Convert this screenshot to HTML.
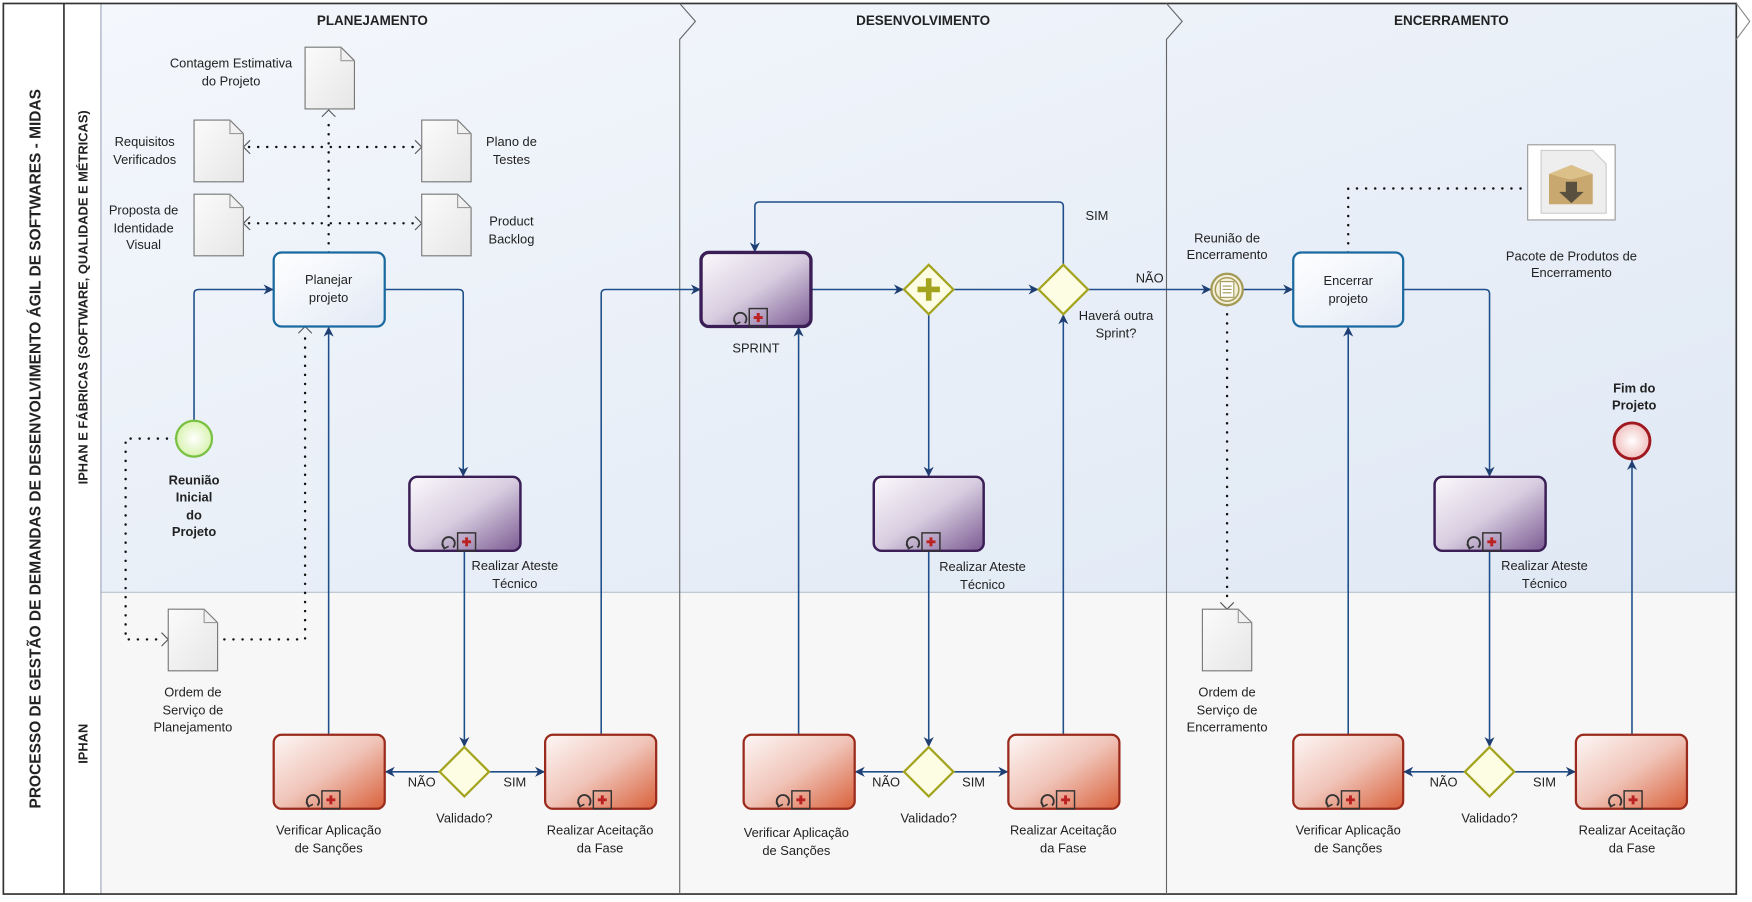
<!DOCTYPE html>
<html><head><meta charset="utf-8">
<style>
html,body{margin:0;padding:0;background:#fff;}
svg{display:block;}
text{font-family:"Liberation Sans",sans-serif;font-size:11.5px;fill:#222;}
.b{font-weight:bold;}
</style></head><body>
<svg width="1752" height="902" viewBox="0 0 1562 804" xmlns="http://www.w3.org/2000/svg">
<defs>
<linearGradient id="lane" x1="0" y1="0" x2="1" y2="1">
<stop offset="0" stop-color="#f4f7fc"/><stop offset="1" stop-color="#dfe8f4"/></linearGradient>
<linearGradient id="pur" x1="0" y1="0" x2="1" y2="1">
<stop offset="0" stop-color="#fbf9fc"/><stop offset="0.5" stop-color="#d8cde0"/><stop offset="1" stop-color="#7a5a92"/></linearGradient>
<linearGradient id="red" x1="0" y1="0" x2="1" y2="1">
<stop offset="0" stop-color="#fdf7f6"/><stop offset="0.5" stop-color="#f0c4b8"/><stop offset="1" stop-color="#d9603a"/></linearGradient>
<linearGradient id="blu" x1="0" y1="0" x2="1" y2="1">
<stop offset="0" stop-color="#ffffff"/><stop offset="1" stop-color="#e2e9f5"/></linearGradient>
<linearGradient id="doc" x1="0" y1="0" x2="1" y2="1">
<stop offset="0" stop-color="#fbfbfb"/><stop offset="1" stop-color="#e6e6e6"/></linearGradient>
<radialGradient id="grn"><stop offset="0" stop-color="#ffffff"/><stop offset="1" stop-color="#d9f3b0"/></radialGradient>
<radialGradient id="rdc"><stop offset="0" stop-color="#fff"/><stop offset="1" stop-color="#f2c0c0"/></radialGradient>
<marker id="ar" viewBox="0 0 10 10" refX="10" refY="5" markerWidth="9" markerHeight="9" orient="auto" markerUnits="userSpaceOnUse"><path d="M0,0 L10,5 L0,10 L3,5 z" fill="#1f3f73"/></marker>
<g id="ic"><path d="M-15,3 A5.5,5.5 0 1 1 -7,3" fill="none" stroke="#333" stroke-width="1.6"/><path d="M-17,0 L-15,4 L-11,2" fill="none" stroke="#333" stroke-width="1.4"/><rect x="-3" y="-10" width="16" height="16" fill="none" stroke="#333" stroke-width="1.3"/><path d="M5,-6 v8 M1,-2 h8" stroke="#b22" stroke-width="2.6"/></g>
<g id="docs"><path d="M0,0 h32 l12,12 v43 h-44 z" fill="url(#doc)" stroke="#777" stroke-width="1"/><path d="M32,0 v12 h12" fill="none" stroke="#999" stroke-width="1"/></g>
</defs>

<rect x="90" y="3" width="1458" height="525" fill="url(#lane)"/>
<rect x="90" y="528" width="1458" height="269" fill="#f7f7f7"/>
<line x1="90" y1="528" x2="1548" y2="528" stroke="#b8c2cf" stroke-width="1"/>
<line x1="90" y1="3" x2="90" y2="797" stroke="#9aa6b8" stroke-width="1"/>
<rect x="3" y="3" width="1545" height="794" fill="none" stroke="#333" stroke-width="1.5"/>
<line x1="57" y1="3" x2="57" y2="797" stroke="#333" stroke-width="1.5"/>
<path d="M606,3 L620,19 L606,35 V797" fill="none" stroke="#666" stroke-width="1"/>
<path d="M1040,3 L1054,19 L1040,35 V797" fill="none" stroke="#666" stroke-width="1"/>
<path d="M1548,3 L1560,19 L1548,35" fill="none" stroke="#888" stroke-width="1"/>
<text x="332" y="22" text-anchor="middle" class="b" style="font-size:12px">PLANEJAMENTO</text>
<text x="823" y="22" text-anchor="middle" class="b" style="font-size:12px">DESENVOLVIMENTO</text>
<text x="1294" y="22" text-anchor="middle" class="b" style="font-size:12px">ENCERRAMENTO</text>
<text transform="translate(36,400) rotate(-90)" text-anchor="middle" class="b" style="font-size:13.8px">PROCESSO DE GESTÃO DE DEMANDAS DE DESENVOLVIMENTO ÁGIL DE SOFTWARES - MIDAS</text>
<text transform="translate(78,265) rotate(-90)" text-anchor="middle" class="b" style="font-size:11.5px">IPHAN E FÁBRICAS (SOFTWARE, QUALIDADE E MÉTRICAS)</text>
<text transform="translate(78,663) rotate(-90)" text-anchor="middle" class="b" style="font-size:11.5px">IPHAN</text>

<g fill="none" stroke="#111" stroke-width="2.2" stroke-dasharray="0.1 8" stroke-linecap="round">
<path d="M293,225 V104"/>
<path d="M222,131 H370"/>
<path d="M222,199 H370"/>
<path d="M157,391 H112 V570 H144"/>
<path d="M200,570 H272 V297"/>
<path d="M1094,272 V538"/>
<path d="M1202,225 V168 H1358"/>
</g>
<g fill="none" stroke="#555" stroke-width="1">
<path d="M287,104 L293,98 L299,104"/>
<path d="M223,125 L217,131 L223,137"/><path d="M370,125 L376,131 L370,137"/>
<path d="M223,193 L217,199 L223,205"/><path d="M370,193 L376,199 L370,205"/>
<path d="M144,564 L150,570 L144,576"/>
<path d="M266,297 L272,291 L278,297"/>
<path d="M1088,537 L1094,543 L1100,537"/>
</g>

<use href="#docs" x="272" y="42"/>
<use href="#docs" x="173" y="107"/>
<use href="#docs" x="376" y="107"/>
<use href="#docs" x="173" y="173"/>
<use href="#docs" x="376" y="173"/>
<use href="#docs" x="150" y="543"/>
<use href="#docs" x="1072" y="543"/>
<text x="206" y="60" text-anchor="middle">Contagem Estimativa</text><text x="206" y="76" text-anchor="middle">do Projeto</text>
<text x="129" y="130" text-anchor="middle">Requisitos</text><text x="129" y="146" text-anchor="middle">Verificados</text>
<text x="456" y="130" text-anchor="middle">Plano de</text><text x="456" y="146" text-anchor="middle">Testes</text>
<text x="128" y="191" text-anchor="middle">Proposta de</text><text x="128" y="207" text-anchor="middle">Identidade</text><text x="128" y="222" text-anchor="middle">Visual</text>
<text x="456" y="201" text-anchor="middle">Product</text><text x="456" y="217" text-anchor="middle">Backlog</text>
<text x="172" y="621" text-anchor="middle">Ordem de</text><text x="172" y="637" text-anchor="middle">Serviço de</text><text x="172" y="652" text-anchor="middle">Planejamento</text>
<text x="1094" y="621" text-anchor="middle">Ordem de</text><text x="1094" y="637" text-anchor="middle">Serviço de</text><text x="1094" y="652" text-anchor="middle">Encerramento</text>

<rect x="1362" y="129" width="78" height="67" fill="#fff" stroke="#999"/>
<path d="M1374,134 h46 l12,12 v44 h-58 z" fill="#eee" stroke="#ccc"/>
<path d="M1381,155 l20,-8 l19,8 v27 h-39 z" fill="#c8a86e"/>
<path d="M1381,155 l20,-8 l19,8 l-20,5 z" fill="#dcc08a"/>
<path d="M1396,162 h10 v9 h6 l-11,10 l-11,-10 h6 z" fill="#5a5040"/>
<text x="1401" y="232" text-anchor="middle">Pacote de Produtos de</text><text x="1401" y="247" text-anchor="middle">Encerramento</text>

<g fill="none" stroke="#1f4f8a" stroke-width="1.4" marker-end="url(#ar)">
<path d="M173,375 V262 q0,-4 4,-4 H244"/>
<path d="M343,258 H409 q4,0 4,4 V425"/>
<path d="M414,491 V666"/>
<path d="M392,688 H343"/>
<path d="M436,688 H486"/>
<path d="M293,655 V291"/>
<path d="M536,655 V262 q0,-4 4,-4 H625"/>
<path d="M723,258 H806"/>
<path d="M850,258 H926"/>
<path d="M828,280 V425"/>
<path d="M828,491 V666"/>
<path d="M806,688 H762"/>
<path d="M850,688 H899"/>
<path d="M712,655 V291"/>
<path d="M948,655 V280"/>
<path d="M948,236 V184 q0,-4 -4,-4 H677 q-4,0 -4,4 V225"/>
<path d="M970,258 H1080"/>
<path d="M1108,258 H1153"/>
<path d="M1251,258 H1324 q4,0 4,4 V425"/>
<path d="M1328,491 V666"/>
<path d="M1306,688 H1251"/>
<path d="M1350,688 H1405"/>
<path d="M1202,655 V291"/>
<path d="M1455,655 V410"/>
</g>

<circle cx="173" cy="391" r="16" fill="url(#grn)" stroke="#7ac143" stroke-width="2"/>
<text x="173" y="432" text-anchor="middle" class="b">Reunião</text><text x="173" y="447" text-anchor="middle" class="b">Inicial</text><text x="173" y="463" text-anchor="middle" class="b">do</text><text x="173" y="478" text-anchor="middle" class="b">Projeto</text>
<circle cx="1455" cy="393" r="16" fill="url(#rdc)" stroke="#a01820" stroke-width="2.6"/>
<text x="1457" y="350" text-anchor="middle" class="b">Fim do</text><text x="1457" y="365" text-anchor="middle" class="b">Projeto</text>
<circle cx="1094" cy="258" r="14" fill="#f3efd8" stroke="#a39a55" stroke-width="2"/>
<circle cx="1094" cy="258" r="10.5" fill="none" stroke="#a39a55" stroke-width="1.3"/>
<rect x="1088" y="251" width="12" height="14" fill="#fff" stroke="#a39a55"/>
<path d="M1090,255 h8 M1090,258 h8 M1090,261 h8" stroke="#a39a55"/>
<text x="1094" y="216" text-anchor="middle">Reunião de</text><text x="1094" y="231" text-anchor="middle">Encerramento</text>

<g stroke="#a3a31d" stroke-width="2" fill="#fdfde3">
<path d="M414,666 L436,688 L414,710 L392,688 z"/>
<path d="M828,666 L850,688 L828,710 L806,688 z"/>
<path d="M1328,666 L1350,688 L1328,710 L1306,688 z"/>
<path d="M828,236 L850,258 L828,280 L806,258 z"/>
<path d="M948,236 L970,258 L948,280 L926,258 z"/>
</g>
<path d="M828,248 v20 M818,258 h20" stroke="#a3a31d" stroke-width="5"/>
<text x="414" y="733" text-anchor="middle">Validado?</text>
<text x="828" y="733" text-anchor="middle">Validado?</text>
<text x="1328" y="733" text-anchor="middle">Validado?</text>
<text x="376" y="701" text-anchor="middle">NÃO</text><text x="459" y="701" text-anchor="middle">SIM</text>
<text x="790" y="701" text-anchor="middle">NÃO</text><text x="868" y="701" text-anchor="middle">SIM</text>
<text x="1287" y="701" text-anchor="middle">NÃO</text><text x="1377" y="701" text-anchor="middle">SIM</text>
<text x="978" y="196" text-anchor="middle">SIM</text>
<text x="1025" y="252" text-anchor="middle">NÃO</text>
<text x="995" y="285" text-anchor="middle">Haverá outra</text><text x="995" y="301" text-anchor="middle">Sprint?</text>

<g fill="url(#blu)" stroke="#1a6aa0" stroke-width="2">
<rect x="244" y="225" width="99" height="66" rx="7"/>
<rect x="1153" y="225" width="98" height="66" rx="7"/>
</g>
<text x="293" y="253" text-anchor="middle">Planejar</text><text x="293" y="269" text-anchor="middle">projeto</text>
<text x="1202" y="254" text-anchor="middle">Encerrar</text><text x="1202" y="270" text-anchor="middle">projeto</text>

<g fill="url(#pur)" stroke="#3a1e55" stroke-width="2.2">
<rect x="625" y="225" width="98" height="66" rx="7" stroke-width="3"/>
<rect x="365" y="425" width="99" height="66" rx="7"/>
<rect x="779" y="425" width="98" height="66" rx="7"/>
<rect x="1279" y="425" width="99" height="66" rx="7"/>
</g>
<g fill="url(#red)" stroke="#9a2a1c" stroke-width="2">
<rect x="244" y="655" width="99" height="66" rx="7"/>
<rect x="486" y="655" width="99" height="66" rx="7"/>
<rect x="663" y="655" width="99" height="66" rx="7"/>
<rect x="899" y="655" width="99" height="66" rx="7"/>
<rect x="1153" y="655" width="98" height="66" rx="7"/>
<rect x="1405" y="655" width="99" height="66" rx="7"/>
</g>
<use href="#ic" x="671" y="285"/>
<use href="#ic" x="411" y="485"/>
<use href="#ic" x="825" y="485"/>
<use href="#ic" x="1325" y="485"/>
<use href="#ic" x="290" y="715"/>
<use href="#ic" x="532" y="715"/>
<use href="#ic" x="709" y="715"/>
<use href="#ic" x="945" y="715"/>
<use href="#ic" x="1199" y="715"/>
<use href="#ic" x="1451" y="715"/>

<text x="674" y="314" text-anchor="middle">SPRINT</text>
<text x="459" y="508" text-anchor="middle">Realizar Ateste</text><text x="459" y="524" text-anchor="middle">Técnico</text>
<text x="876" y="509" text-anchor="middle">Realizar Ateste</text><text x="876" y="525" text-anchor="middle">Técnico</text>
<text x="1377" y="508" text-anchor="middle">Realizar Ateste</text><text x="1377" y="524" text-anchor="middle">Técnico</text>
<text x="293" y="744" text-anchor="middle">Verificar Aplicação</text><text x="293" y="760" text-anchor="middle">de Sanções</text>
<text x="535" y="744" text-anchor="middle">Realizar Aceitação</text><text x="535" y="760" text-anchor="middle">da Fase</text>
<text x="710" y="746" text-anchor="middle">Verificar Aplicação</text><text x="710" y="762" text-anchor="middle">de Sanções</text>
<text x="948" y="744" text-anchor="middle">Realizar Aceitação</text><text x="948" y="760" text-anchor="middle">da Fase</text>
<text x="1202" y="744" text-anchor="middle">Verificar Aplicação</text><text x="1202" y="760" text-anchor="middle">de Sanções</text>
<text x="1455" y="744" text-anchor="middle">Realizar Aceitação</text><text x="1455" y="760" text-anchor="middle">da Fase</text>
</svg>
</body></html>
